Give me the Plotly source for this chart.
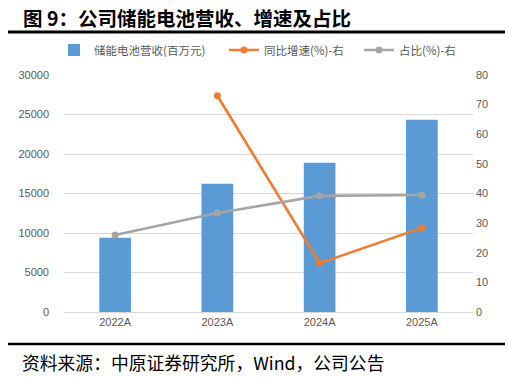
import plotly.graph_objects as go

categories = ["2022A", "2023A", "2024A", "2025A"]
revenue = [9400, 16250, 18900, 24350]          # 储能电池营收(百万元)
yoy = [None, 73.0, 16.5, 28.4]                  # 同比增速(%)
share = [26.0, 33.4, 39.2, 39.5]                # 占比(%)
left_ticks = [0, 5000, 10000, 15000, 20000, 25000, 30000]
left_ticktext = ["0", "5000", "10000", "15000", "20000", "25000", "30000"]
right_ticks = [0, 10, 20, 30, 40, 50, 60, 70, 80]

BLUE = "#5B9BD5"
ORANGE = "#ED7D31"
GRAY = "#A5A5A5"
TICK_FONT = dict(family="Liberation Sans, Arial", size=11, color="#595959")
CJK = "Noto Sans CJK SC"
W, H = 508, 377
L, R, T, B = 64, 35, 75, 65
PW, PH = W - L - R, H - T - B


def px(x):
    return (x - L) / PW


def py(y):
    return (H - B - y) / PH


fig = go.Figure()
fig.add_trace(go.Bar(x=categories, y=revenue, name="储能电池营收(百万元)", legend="legend",
                     marker=dict(color=BLUE, line=dict(width=0)), width=0.31))
fig.add_trace(go.Scatter(x=categories, y=yoy, name="同比增速(%)-右", yaxis="y2", legend="legend2",
                         mode="lines+markers", line=dict(color=ORANGE, width=2.6),
                         marker=dict(color=ORANGE, size=7)))
fig.add_trace(go.Scatter(x=categories, y=share, name="占比(%)-右", yaxis="y2", legend="legend3",
                         mode="lines+markers", line=dict(color=GRAY, width=2.6),
                         marker=dict(color=GRAY, size=7)))

LEG_FONT = dict(family=CJK, size=11.5, color="#595959")
leg_y = 1 - 50 / H


def leg(x_px):
    return dict(orientation="h", xref="container", yref="container", x=x_px / W, y=leg_y,
                xanchor="left", yanchor="middle", font=LEG_FONT, itemwidth=30,
                bgcolor="rgba(0,0,0,0)")


fig.update_layout(
    width=W, height=H,
    margin=dict(l=L, r=R, t=T, b=B, autoexpand=False),
    paper_bgcolor="white", plot_bgcolor="white",
    showlegend=True,
    legend=leg(54), legend2=leg(224), legend3=leg(359),
    xaxis=dict(type="category", showgrid=False, showline=True, linecolor="#D9D9D9",
               linewidth=1, ticks="", tickfont=TICK_FONT, fixedrange=True),
    yaxis=dict(range=[0, 30000], tickvals=left_ticks, ticktext=left_ticktext, showgrid=True,
               gridcolor="#D9D9D9", gridwidth=1, zeroline=False, showline=False, ticks="",
               tickfont=TICK_FONT, ticklabelstandoff=14),
    yaxis2=dict(range=[0, 80], tickvals=right_ticks, overlaying="y", side="right",
                showgrid=False, zeroline=False, showline=False, ticks="", tickfont=TICK_FONT,
                ticklabelstandoff=2),
    font=dict(family=CJK),
)

fig.add_annotation(text="<b>图 9：公司储能电池营收、增速及占比</b>", xref="paper", yref="paper",
                   x=px(21), y=py(17), xanchor="left", yanchor="middle",
                   showarrow=False, font=dict(family=CJK, size=19.5, color="black"))
fig.add_annotation(text="资料来源：中原证券研究所，Wind，公司公告", xref="paper", yref="paper",
                   x=px(20), y=py(362), xanchor="left", yanchor="middle",
                   showarrow=False, font=dict(family=CJK, size=17.8, color="black"))
fig.add_shape(type="line", xref="paper", yref="paper",
              x0=px(8), x1=px(505), y0=py(32), y1=py(32),
              line=dict(color="black", width=3))
fig.add_shape(type="line", xref="paper", yref="paper",
              x0=px(8), x1=px(505), y0=py(344), y1=py(344),
              line=dict(color="black", width=2.5))

fig.write_html("out.html", config={"displayModeBar": False},
               post_script="document.body.style.margin='0';")
